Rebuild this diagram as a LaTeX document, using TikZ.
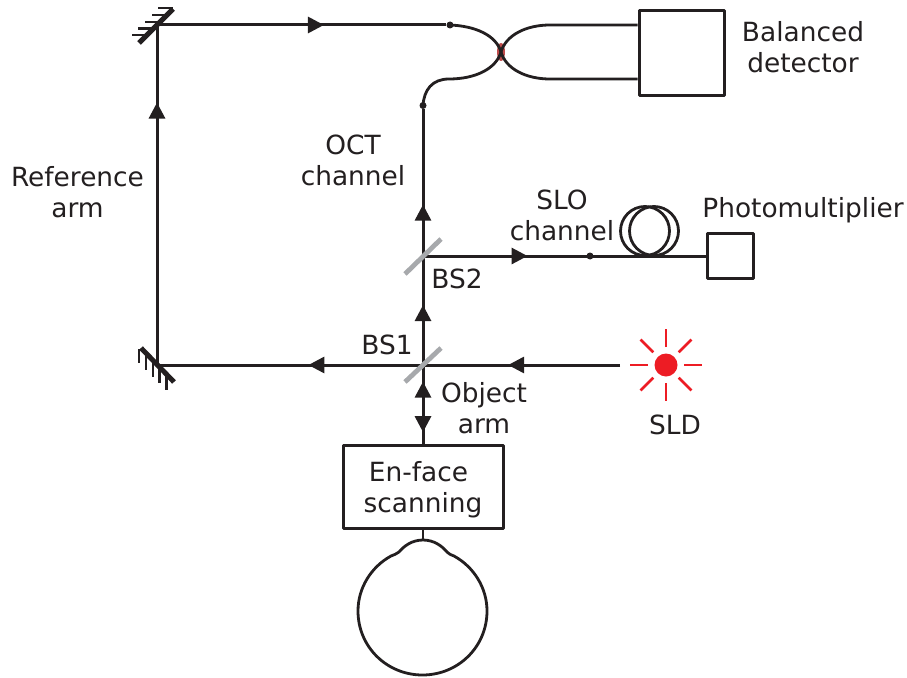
\documentclass[tikz,border=0pt]{standalone}
\usepackage{fontspec}
\setmainfont{DejaVu Sans}
\usetikzlibrary{arrows.meta,decorations.markings}
\definecolor{ink}{HTML}{231F20}
\definecolor{sldred}{HTML}{ED1C24}
\definecolor{bsgrey}{HTML}{A7A9AC}
\tikzset{
  x=1pt,y=-1pt,
  every path/.style={line join=round},
  beam/.style={draw=ink,line width=3pt},
  thin beam/.style={draw=ink,line width=2.8pt},
  midtip/.style={postaction={decorate},decoration={markings,mark=at position #1 with {\arrow{Triangle[width=16pt,length=16pt]}}}},
  label/.style={text=ink,font=\fontsize{26.4}{31}\selectfont,align=center,inner sep=0pt},
  boxnode/.style={draw=ink,line width=3pt,fill=white,inner sep=0pt},
  joint/.style={circle,fill=ink,inner sep=0pt,minimum size=7pt},
  splitter/.style={draw=bsgrey,line width=4.8pt},
  mirrorface/.style={draw=ink,line width=5pt},
  hatch/.style={draw=ink,line width=2.6pt},
  ray/.style={draw=sldred,line width=2.6pt},
}
\begin{document}
\begin{tikzpicture}
\useasboundingbox (0,0) rectangle (907,677);
% named points
\coordinate (mb) at (157,365);
\coordinate (mt) at (157,25);
\coordinate (bs1) at (423,365);
\coordinate (bs2) at (423,256);
\coordinate (coupler) at (501,52);
\coordinate (srcend) at (620,365);
\coordinate (corneatop) at (423,540);
% nodes
\node[boxnode,minimum width=85pt,minimum height=85pt] (det) at (681.5,53) {};
\node[boxnode,minimum width=46pt,minimum height=45pt] (pmt) at (730,256) {};
\node[boxnode,minimum width=160pt,minimum height=83pt] (scan) at (423,487) {};
\node[joint] (d1) at (450,25) {};
\node[joint] (d2) at (423,105.5) {};
\node[joint] (d3) at (590,256) {};
\node[circle,fill=sldred,inner sep=0pt,minimum size=23pt] (sld) at (666,365) {};
% coil
\node[circle,draw=ink,line width=2.8pt,minimum size=49pt,inner sep=0pt] (c1) at (645,231) {};
\node[circle,draw=ink,line width=2.8pt,minimum size=49pt,inner sep=0pt] (c2) at (654,231) {};
% beams
\draw[beam,midtip=0.568] (srcend) -- (bs1);
\draw[beam,midtip=0.431] (bs1) -- (mb);
\draw[beam,midtip=0.772] (mb) -- (mt);
\draw[beam,midtip=0.577] (mt) -- (d1);
\draw[beam,midtip=0.55] (bs1) -- (bs2);
\draw[beam,midtip=0.35] (bs2) -- (d2);
\draw[beam,midtip=0.37] (bs2) -- (pmt.west);
\draw[beam,midtip=0.79] (scan.north) -- (bs1);
\draw[beam,midtip=0.85] (bs1) -- (scan.north);
% coupler
\fill[red!65!black,opacity=.7] (coupler) ellipse [x radius=4pt,y radius=9pt];
\draw[thin beam] (d1.center) .. controls (475,26) and (496,35) .. (coupler);
\draw[thin beam] (d2.center) .. controls (424,90) and (432,79) .. (449,79) .. controls (475,79) and (496,69) .. (coupler);
\draw[thin beam] (coupler) .. controls (506,35) and (526,25) .. (550,25) -- (det.west |- 0,25);
\draw[thin beam] (coupler) .. controls (506,69) and (526,79) .. (550,79) -- (det.west |- 0,79);
% splitters
\draw[splitter] (405,382) -- (441,348);
\draw[splitter] (405,274) -- (441,239);
% mirrors
\draw[mirrorface] (139,43) -- (173,9);
\foreach \ya/\xa/\xb in {35/132/146, 28.5/138/152, 22/145/159, 15/152/166, 8/158/173} \draw[hatch] (\xa,\ya) -- (\xb,\ya);
\draw[mirrorface] (141,348) -- (174,382);
\foreach \xa/\ya/\yb in {139/349/363, 146/355/370, 153/362/377, 159.5/368/383, 166.5/375/390} \draw[hatch] (\xa,\ya) -- (\xa,\yb);
% SLD rays
\foreach \a in {0,45,...,315} \draw[ray] (sld.center) ++(\a:18) -- ++(\a:18);
% eye
\draw[thin beam] (scan.south) -- (corneatop);
\draw[thin beam] (corneatop) .. controls (412,540) and (404,546) .. (399,552) .. controls (396,554) and (394,555) .. (391,556)
  .. controls (371,567) and (358,588) .. (358,611) .. controls (358,647) and (387,675) .. (422.5,675)
  .. controls (458,675) and (487,647) .. (487,611) .. controls (487,588) and (474,567) .. (454,556)
  .. controls (451,555) and (449,554) .. (447,552) .. controls (442,546) and (434,540) .. (corneatop) -- cycle;
% labels
\node[label] (l0) at (423,489.5) {En-face\hspace*{9pt}\\scanning};
\node[label] (l1) at (803,47.5) {Balanced\\detector};
\node[label] (l2) at (77.5,192.5) {Reference\\arm};
\node[label] (l3) at (353,160.5) {OCT\\channel};
\node[label] (l4) at (562,215) {SLO\\channel};
\node[label] (l5) at (803,210) {Photomultiplier};
\node[label] (l6) at (457,279) {BS2};
\node[label] (l7) at (387,345) {BS1};
\node[label] (l8) at (484,408) {Object\\arm};
\node[label] (l9) at (675,424.5) {SLD};
\end{tikzpicture}
\end{document}
